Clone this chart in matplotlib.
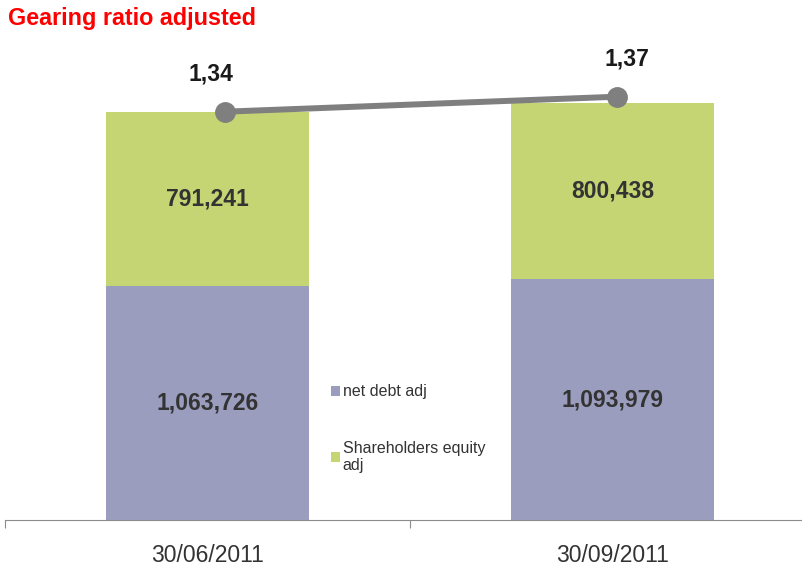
#!/usr/bin/env python3
"""Gearing ratio adjusted: stacked net debt / equity bars with ratio line."""

import matplotlib.pyplot as plt
import numpy as np

plt.rcParams["font.family"] = ["Liberation Sans", "DejaVu Sans"]

dates = ["30/06/2011", "30/09/2011"]
net_debt = [1063726, 1093979]
equity = [791241, 800438]
ratio = [1.34, 1.37]
ratio_labels = ["1,34", "1,37"]

DEBT_COLOR = "#9b9dbe"
EQUITY_COLOR = "#c6d573"
LINE_COLOR = "#7f7f7f"
TEXT_COLOR = "#333333"

W, H = 802, 569
fig = plt.figure(figsize=(W / 100, H / 100), dpi=100)

# axes frame in pixels: left 5, bottom baseline at y=520, extends past right edge
left, base, width, top = 5, 520, 810, 40
rect = [left / W, (H - base) / H, width / W, (base - top) / H]
ax = fig.add_axes(rect)

x = np.arange(len(dates))
ax.bar(x, net_debt, 0.5, color=DEBT_COLOR, label="net debt adj")
ax.bar(x, equity, 0.5, bottom=net_debt, color=EQUITY_COLOR,
       label="Shareholders equity\nadj")

for xi, d, e in zip(x, net_debt, equity):
    ax.text(xi, d / 2, f"{d:,}", ha="center", va="center", fontsize=16.5,
            fontweight="bold", color=TEXT_COLOR)
    ax.text(xi, d + e / 2, f"{e:,}", ha="center", va="center", fontsize=16.5,
            fontweight="bold", color=TEXT_COLOR)

ax.set_xlim(-0.5, 1.5)
ax.set_ylim(0, 2182000)
ax.set_yticks([])
for s in ["top", "right", "left"]:
    ax.spines[s].set_visible(False)
ax.spines["bottom"].set_color("#8c8c8c")
ax.set_xticks([-0.5, 0.5, 1.5])
ax.set_xticklabels([])
ax.tick_params(axis="x", which="major", length=6, color="#8c8c8c")
ax.set_xticks(x, minor=True)
ax.set_xticklabels(dates, minor=True)
ax.tick_params(axis="x", which="minor", length=0, pad=17, labelsize=16.5,
               labelcolor=TEXT_COLOR)

leg = ax.legend(loc="upper left", bbox_to_anchor=(320 / width, (base - 378) / (base - top)),
                frameon=False, fontsize=11.5, handlelength=0.55, handleheight=0.55,
                handletextpad=0.15, labelspacing=2.6, borderaxespad=0)
for t in leg.get_texts():
    t.set_color(TEXT_COLOR)
    t.set_linespacing(1.15)

# ratio line on its own overlay axes
ax2 = fig.add_axes(rect)
ax2.patch.set_visible(False)
ax2.axis("off")
ax2.plot(x, ratio, color=LINE_COLOR, linewidth=4.3, marker="o", markersize=14,
         solid_capstyle="round")
ax2.set_xlim(-0.5612, 1.505)
ax2.set_ylim(0.5234, 1.4834)
for xi, r, lab, dx in zip(x, ratio, ratio_labels, [-10, 7]):
    ax2.annotate(lab, (xi, r), xytext=(dx, 27), textcoords="offset points",
                 ha="center", va="center", fontsize=16.5, fontweight="bold",
                 color="#1a1a1a")

fig.text(8 / W, 1 - 19 / H, "Gearing ratio adjusted", color="#ff0000",
         fontsize=16.8, fontweight="bold", va="center", ha="left")

fig.savefig("out.png", dpi=100)
